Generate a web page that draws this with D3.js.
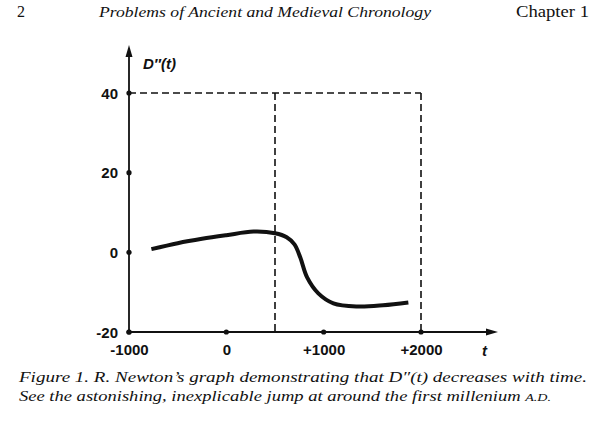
<!DOCTYPE html>
<html>
<head>
<meta charset="utf-8">
<script src="https://cdn.jsdelivr.net/npm/d3@7"></script>
<style>
	body { margin: 0; background: #fff; }
	svg { display: block; }
	.serif { font-family: "Liberation Serif", "DejaVu Serif", serif; fill: #111; }
	.sans { font-family: "Liberation Sans", Arial, sans-serif; fill: #111; }
</style>
</head>
<body>
<div id="chart"></div>
<script>
// tick values and labels
const xTicks = [-1000, 0, 1000, 2000];
const xTickLabels = ["-1000", "0", "+1000", "+2000"];
const yTicks = [-20, 0, 20, 40];
const yTickLabels = ["-20", "0", "20", "40"];

// R. Newton's curve
const curveT = [-770, -500, -250, 0, 280, 500, 620, 700, 760, 830, 945, 1100, 1345, 1610, 1870];
const curveD = [0.8, 2.3, 3.4, 4.3, 5.2, 4.8, 3.8, 2.0, -1.3, -6.3, -10.3, -12.8, -13.6, -13.3, -12.6];

// dashed guide lines
const guideT = [500, 2000];
const guideD = 40;

const width = 600, height = 421;

const svg = d3.select("#chart").append("svg")
	.attr("width", width)
	.attr("height", height);

// scales
const x = d3.scaleLinear().domain([-1000, 2000]).range([129, 421]);
const y = d3.scaleLinear().domain([-20, 40]).range([332, 93]);

// page header
svg.append("text").attr("class", "serif")
	.attr("x", 17).attr("y", 17)
	.style("font-size", "16px")
	.text("2");
svg.append("text").attr("class", "serif")
	.attr("x", 99).attr("y", 17)
	.style("font-size", "15.5px").style("font-style", "italic")
	.attr("textLength", 332).attr("lengthAdjust", "spacingAndGlyphs")
	.text("Problems of Ancient and Medieval Chronology");
svg.append("text").attr("class", "serif")
	.attr("x", 516).attr("y", 17)
	.style("font-size", "16px")
	.attr("textLength", 73).attr("lengthAdjust", "spacingAndGlyphs")
	.text("Chapter 1");

// dashed guides
const guides = svg.append("g")
	.attr("fill", "none").attr("stroke", "#111")
	.attr("stroke-width", 1.6).attr("stroke-dasharray", "7,4");
guides.append("line")
	.attr("x1", x(-1000)).attr("x2", x(2000))
	.attr("y1", y(guideD)).attr("y2", y(guideD));
guideT.forEach(t => {
	guides.append("line")
		.attr("x1", x(t)).attr("x2", x(t))
		.attr("y1", y(guideD)).attr("y2", y(-20));
});

// axes with arrows
svg.append("line")
	.attr("x1", x(-1000)).attr("x2", 490)
	.attr("y1", y(-20)).attr("y2", y(-20))
	.attr("stroke", "#111").attr("stroke-width", 1.8);
svg.append("path")
	.attr("d", "M498," + y(-20) + "L486," + (y(-20) - 3.5) + "L486," + (y(-20) + 3.5) + "Z")
	.attr("fill", "#111");
svg.append("line")
	.attr("x1", x(-1000)).attr("x2", x(-1000))
	.attr("y1", y(-20)).attr("y2", 54)
	.attr("stroke", "#111").attr("stroke-width", 1.8);
svg.append("path")
	.attr("d", "M" + x(-1000) + ",45L" + (x(-1000) - 3.5) + ",57L" + (x(-1000) + 3.5) + ",57Z")
	.attr("fill", "#111");

// tick labels via d3 axes (no domain line, ticks drawn as dots)
const xAxis = svg.append("g")
	.attr("transform", "translate(0," + y(-20) + ")")
	.call(d3.axisBottom(x).tickValues(xTicks).tickSize(0)
		.tickFormat((d, i) => xTickLabels[i]));
const yAxis = svg.append("g")
	.attr("transform", "translate(" + x(-1000) + ",0)")
	.call(d3.axisLeft(y).tickValues(yTicks).tickSize(0)
		.tickFormat((d, i) => yTickLabels[i]));
[xAxis, yAxis].forEach(a => {
	a.select(".domain").remove();
	a.selectAll("text")
		.attr("class", "sans")
		.style("font-size", "15px").style("font-weight", "bold")
		.attr("fill", "#111");
});
xAxis.selectAll("text").attr("dy", "0").attr("y", 23);
yAxis.selectAll("text").attr("x", -11).attr("dy", "0.35em");

// tick dots
svg.append("g").selectAll("circle")
	.data(xTicks)
	.enter().append("circle")
	.attr("cx", d => x(d)).attr("cy", y(-20)).attr("r", 2.6)
	.attr("fill", "#111");
svg.append("g").selectAll("circle")
	.data(yTicks)
	.enter().append("circle")
	.attr("cx", x(-1000)).attr("cy", d => y(d)).attr("r", 2.6)
	.attr("fill", "#111");

// axis titles
svg.append("text").attr("class", "sans")
	.attr("x", 143).attr("y", 69)
	.style("font-size", "15px").style("font-style", "italic").style("font-weight", "bold")
	.text("D\u2033(t)");
svg.append("text").attr("class", "sans")
	.attr("x", 482).attr("y", 356)
	.style("font-size", "15px").style("font-style", "italic").style("font-weight", "bold")
	.text("t");

// the curve
const line = d3.line()
	.x(d => x(d[0]))
	.y(d => y(d[1]))
	.curve(d3.curveCatmullRom.alpha(0.5));
svg.append("path")
	.datum(curveT.map((t, i) => [t, curveD[i]]))
	.attr("d", line)
	.attr("fill", "none").attr("stroke", "#111")
	.attr("stroke-width", 4).attr("stroke-linecap", "butt");

// caption
const cap1 = svg.append("text").attr("class", "serif")
	.attr("x", 19).attr("y", 382)
	.style("font-size", "14.5px").style("font-style", "italic")
	.attr("textLength", 568).attr("lengthAdjust", "spacingAndGlyphs");
cap1.append("tspan").text("Figure 1. R. Newton\u2019s graph demonstrating that D\u2033(t) decreases with time.");
const cap2 = svg.append("text").attr("class", "serif")
	.attr("x", 19).attr("y", 401)
	.style("font-size", "14.5px").style("font-style", "italic")
	.attr("textLength", 532).attr("lengthAdjust", "spacingAndGlyphs");
cap2.append("tspan").text("See the astonishing, inexplicable jump at around the first millenium ");
cap2.append("tspan").style("font-size", "11px").text("A.D.");
</script>
</body>
</html>
